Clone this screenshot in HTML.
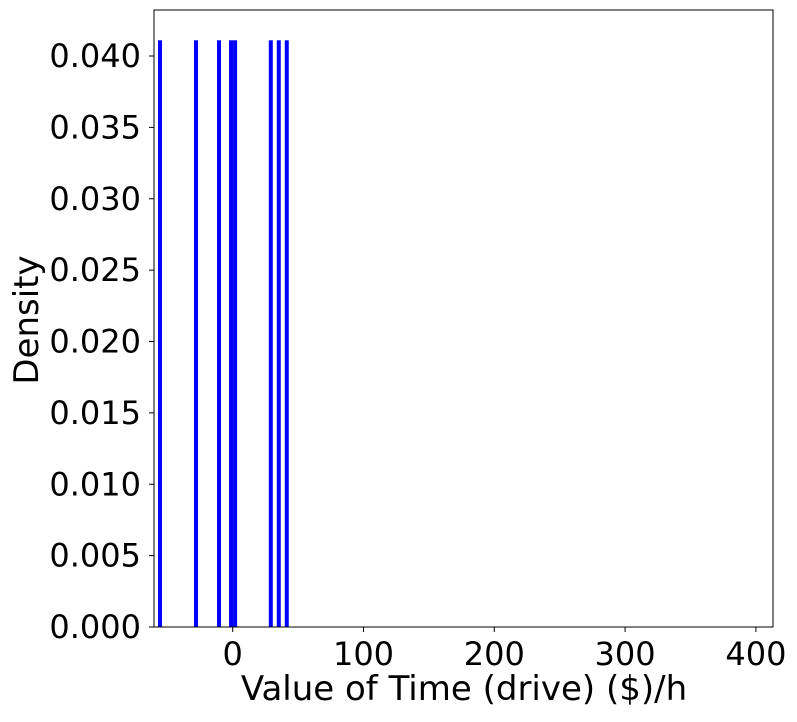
<!DOCTYPE html>
<html><head><meta charset="utf-8"><style>
body{margin:0;background:#fff;font-family:"Liberation Sans","DejaVu Sans",sans-serif}
text{font-family:"DejaVu Sans","Liberation Sans",sans-serif}
</style></head><body>
<svg id="chart" width="797" height="717" xmlns="http://www.w3.org/2000/svg"></svg>
<script>
const binStarts=[-57.1,-29.6,-12.0,-2.8,0.3,27.6,33.7,39.8];
const binWidth=3.06;
const densities=[0.0411,0.0411,0.0411,0.0411,0.0411,0.0411,0.0411,0.0411];
const xTicks=[0,100,200,300,400];
const yTicks=[0,0.005,0.010,0.015,0.020,0.025,0.030,0.035,0.040];
const L=154,R=773,T=10,B=627;
const x0=232.7,xk=1.308;
function sx(v){return x0+v*xk;}
function sy(v){return 627-(v/0.04)*(627-56);}
const svg=document.getElementById('chart');
const NS='http://www.w3.org/2000/svg';
function mk(tag,attrs,parent){const e=document.createElementNS(NS,tag);for(const k in attrs)e.setAttribute(k,attrs[k]);(parent||svg).appendChild(e);return e;}
const bars=mk('g',{});


binStarts.forEach((s,i)=>{
  const r=mk('rect',{x:sx(s),y:sy(densities[i]),width:binWidth*xk,height:sy(0)-sy(densities[i]),fill:'#0000ff'},bars);
  
  
});
const frame=mk('rect',{x:L,y:T,width:R-L,height:B-T,fill:'none',stroke:'#000','stroke-width':1});


const xa=mk('g',{});


xTicks.forEach(t=>{
  const x=sx(t);
  mk('line',{x1:x,x2:x,y1:B,y2:B+5,stroke:'#000'},xa);
  const tx=mk('text',{x:x,y:B+38,'text-anchor':'middle','font-size':32,fill:'#000'},xa);
  tx.textContent=t;
  
  
});
const ya=mk('g',{});


yTicks.forEach(t=>{
  const y=sy(t);
  mk('line',{x1:L-5,x2:L,y1:y,y2:y,stroke:'#000'},ya);
  const tx=mk('text',{x:L-13,y:y+11,'text-anchor':'end','font-size':32,fill:'#000'},ya);
  tx.textContent=t.toFixed(3);
  
  
});
const xt=mk('text',{x:464,y:700,'text-anchor':'middle','font-size':34,fill:'#000'});
xt.textContent='Value of Time (drive) ($)/h';


const yt=mk('text',{x:0,y:0,'text-anchor':'middle','font-size':34,fill:'#000',transform:'translate(38,320) rotate(-90)'});
yt.textContent='Density';


</script>
</body></html>
